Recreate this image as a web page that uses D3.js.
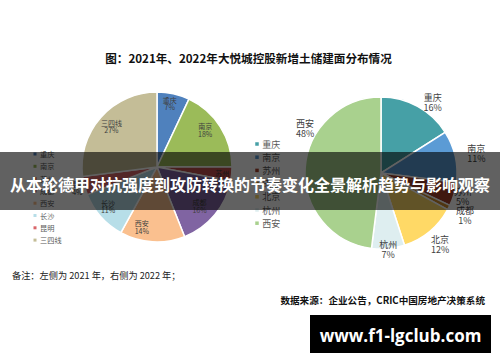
<!DOCTYPE html>
<html><head><meta charset="utf-8">
<script src="https://cdn.jsdelivr.net/npm/d3@7/dist/d3.min.js"></script>
<style>body{margin:0;background:#fff}svg{display:block}</style>
</head><body>
<svg id="c" width="500" height="362"></svg>
<script>
// ---- data ----
const cities2021 = ["重庆","南京","苏州","成都","西安","长沙","昆明","三四线"];
const values2021 = [7,18,3,16,14,11,4,27];
const colors2021 = ["#4F81BD","#9BBB59","#C0504D","#8064A2","#FAC08F","#B7DEE8","#D9666A","#C4BD97"];
const cities2022 = ["重庆","南京","苏州","成都","北京","杭州","西安"];
const values2022 = [16,11,5,1,12,7,48];
const colors2022 = ["#46A0A6","#5B9BD5","#A5402B","#D08B2C","#FFD966","#DEEEF0","#A9D18E"];
// label placement: [radius factor, fraction along slice]
const labelPos2021 = [[0.86,0.45],[0.81,0.42],[0.88,0.8],[0.77,0.55],[0.83,0.71],[0.84,0.56],[1.1,0.45],[0.81,0.5]];
const labelPos2022 = [[1.15,0.63],[1.28,0.53],[1.12,0.5],[1.24,0.5],[1.22,0.5],[1.01,0.5],[1.16,0.656]];

const svg = d3.select("#c");
const FONT = "'Noto Sans CJK SC','Noto Sans',sans-serif";

function drawPie(cx, cy, r, cats, vals, cols, lpos, fs) {
  const g = svg.append("g").attr("transform", `translate(${cx},${cy})`);
  const pie = d3.pie().sort(null).value(d => d)(vals);
  const arc = d3.arc().innerRadius(0).outerRadius(r);
  g.selectAll("path").data(pie).join("path")
    .attr("d", arc).attr("fill", (d,i) => cols[i])
    .attr("stroke", "#fff").attr("stroke-width", 1.5);
  pie.forEach((d,i) => {
    const [rf, fr] = lpos[i];
    const a = d.startAngle + (d.endAngle - d.startAngle) * fr;
    const rr = r * rf;
    const x = rr * Math.sin(a), y = -rr * Math.cos(a);
    const t = g.append("text").attr("x", x).attr("y", y)
      .attr("text-anchor","middle").attr("font-family", FONT)
      .attr("font-size", fs).attr("fill","#404040");
    t.append("tspan").attr("x", x).attr("dy", -fs*0.15).text(cats[i]);
    t.append("tspan").attr("x", x).attr("dy", fs*1.1).text(vals[i] + "%");
  });
}
drawPie(157,167,75,cities2021,values2021,colors2021,labelPos2021,7);
drawPie(381,173,76,cities2022,values2022,colors2022,labelPos2022,9);

function legend(x, y0, step, cats, cols, fs, ms) {
  const g = svg.append("g");
  cats.forEach((c,i) => {
    const y = y0 + i*step;
    g.append("rect").attr("x", x - ms/2).attr("y", y - ms/2).attr("width", ms).attr("height", ms).attr("fill", cols[i]);
    g.append("text").attr("x", x + ms/2 + 3.5).attr("y", y).attr("dominant-baseline","central")
      .attr("font-family", FONT).attr("font-size", fs).attr("fill","#595959").text(c);
  });
}
legend(35,154,12.3,cities2021,colors2021,7.2,3);
legend(257,144,13.2,cities2022,colors2022,9,3.5);

// title
svg.append("text").attr("x",248.5).attr("y",58).attr("text-anchor","middle").attr("dominant-baseline","central")
  .attr("font-family",FONT).attr("font-weight","bold").attr("font-size",11.6).attr("fill","#111")
  .text("图：2021年、2022年大悦城控股新增土储建面分布情况");
// footnote
svg.append("text").attr("x",12).attr("y",275).attr("dominant-baseline","central")
  .attr("font-family",FONT).attr("font-size",9.2).attr("fill","#222")
  .text("备注：左侧为 2021 年，右侧为 2022 年；");
svg.append("text").attr("x",485).attr("y",300).attr("text-anchor","end").attr("dominant-baseline","central")
  .attr("font-family",FONT).attr("font-weight","bold").attr("font-size",9.6).attr("fill","#111")
  .text("数据来源：企业公告，CRIC中国房地产决策系统");

// banner overlay
svg.append("rect").attr("x",0).attr("y",152).attr("width",500).attr("height",58).attr("fill","#000").attr("opacity",0.62);
svg.append("text").attr("x",250).attr("y",184).attr("text-anchor","middle").attr("dominant-baseline","central")
  .attr("font-family",FONT).attr("font-weight","bold").attr("font-size",16).attr("fill","#fff")
  .text("从本轮德甲对抗强度到攻防转换的节奏变化全景解析趋势与影响观察");

// watermark
svg.append("rect").attr("x",310).attr("y",315).attr("width",181).attr("height",38).attr("fill","#000");
svg.append("text").attr("x",400.5).attr("y",335).attr("text-anchor","middle").attr("dominant-baseline","central")
  .attr("font-family","'Open Sans','DejaVu Sans',sans-serif").attr("font-weight","bold").attr("font-size",17).attr("fill","#fff")
  .text("www.f1-lgclub.com");
</script>
</body></html>
